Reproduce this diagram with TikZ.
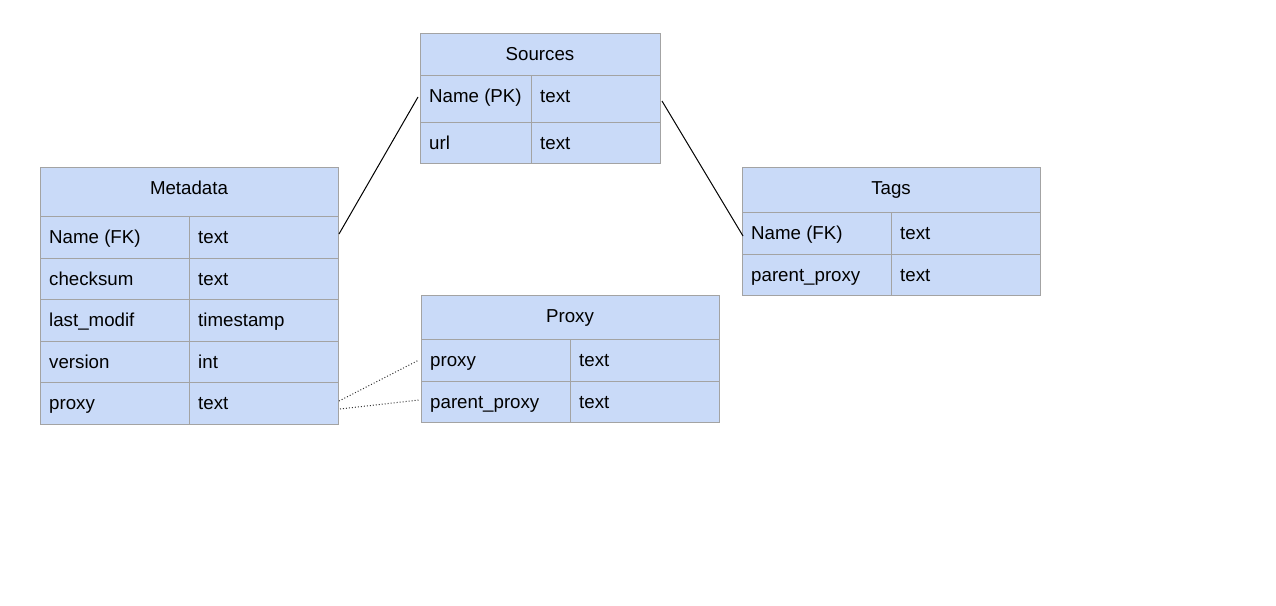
\documentclass[tikz,border=0pt]{standalone}
\usepackage{fontspec}
\setmainfont{Liberation Sans}
\definecolor{tblue}{HTML}{C9DAF8}
\definecolor{tgray}{HTML}{A3A3A3}
\newcommand\hdcell[6]{%
  \node[cellbox,minimum width=#4pt,minimum height=#5pt] (#1) at (#2,#3) {};
  \node[celltext,anchor=base] (#1t) at ([yshift=-27.5pt]#1.north) {#6};}
\newcommand\rwcell[6]{%
  \node[cellbox,minimum width=#4pt,minimum height=#5pt] (#1) at (#2,#3) {};
  \node[celltext,anchor=base west] (#1t) at ([xshift=9pt,yshift=-27.5pt]#1.north west) {#6};}
\begin{document}
\begin{tikzpicture}[x=1pt,y=-1pt,
  cellbox/.style={draw=tgray,fill=tblue,line width=1pt,anchor=north west,inner sep=0pt,outer sep=0pt},
  celltext/.style={inner sep=0pt,font=\fontsize{18.7}{22}\selectfont,text=black},
  conn/.style={line width=1pt,black},
  dotconn/.style={line width=1pt,black!80,dash pattern=on 1pt off 2pt}]
\useasboundingbox (0,0) rectangle (1276,605);
% Sources
\hdcell{sh}{420}{33}{240}{42}{Sources}
\rwcell{s1a}{420}{75}{111}{47}{Name (PK)}
\rwcell{s1b}{531}{75}{129}{47}{text}
\rwcell{s2a}{420}{122}{111}{41}{url}
\rwcell{s2b}{531}{122}{129}{41}{text}
% Metadata
\hdcell{mh}{40}{167}{298}{49}{Metadata}
\rwcell{m1a}{40}{216}{149}{42}{Name (FK)}
\rwcell{m1b}{189}{216}{149}{42}{text}
\rwcell{m2a}{40}{258}{149}{41}{checksum}
\rwcell{m2b}{189}{258}{149}{41}{text}
\rwcell{m3a}{40}{299}{149}{42}{last\_modif}
\rwcell{m3b}{189}{299}{149}{42}{timestamp}
\rwcell{m4a}{40}{341}{149}{41}{version}
\rwcell{m4b}{189}{341}{149}{41}{int}
\rwcell{m5a}{40}{382}{149}{42}{proxy}
\rwcell{m5b}{189}{382}{149}{42}{text}
% Tags
\hdcell{th}{742}{167}{298}{45}{Tags}
\rwcell{t1a}{742}{212}{149}{42}{Name (FK)}
\rwcell{t1b}{891}{212}{149}{42}{text}
\rwcell{t2a}{742}{254}{149}{41}{parent\_proxy}
\rwcell{t2b}{891}{254}{149}{41}{text}
% Proxy
\hdcell{ph}{421}{295}{298}{44}{Proxy}
\rwcell{p1a}{421}{339}{149}{42}{proxy}
\rwcell{p1b}{570}{339}{149}{42}{text}
\rwcell{p2a}{421}{381}{149}{41}{parent\_proxy}
\rwcell{p2b}{570}{381}{149}{41}{text}
% connectors
\draw[conn] ([xshift=1pt,yshift=3pt]m1b.east) -- ([xshift=-2pt,yshift=1.5pt]s1a.west);
\draw[conn] ([xshift=2pt,yshift=-2.5pt]s1b.east) -- ([xshift=1pt,yshift=-3pt]t1a.west);
\draw[dotconn] ([xshift=1pt,yshift=2pt]m5b.east) -- ([xshift=-2pt]p1a.west);
\draw[dotconn] ([xshift=2pt,yshift=-6pt]m5b.east) -- ([xshift=-2pt,yshift=1.5pt]p2a.west);
\end{tikzpicture}
\end{document}
